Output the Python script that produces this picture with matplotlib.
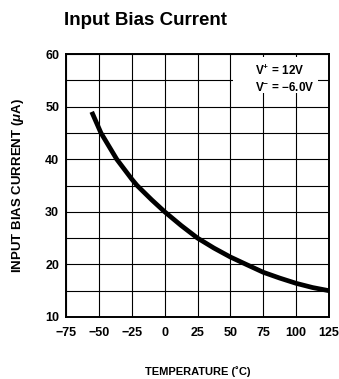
import matplotlib
matplotlib.use('Agg')
import matplotlib.pyplot as plt
from matplotlib import font_manager
from matplotlib.patches import Rectangle

# font: narrow bold if available
names = {f.name for f in font_manager.fontManager.ttflist}
narrow = 'Liberation Sans Narrow' if 'Liberation Sans Narrow' in names else 'Liberation Sans'
plt.rcParams['font.family'] = [narrow, 'DejaVu Sans']
plt.rcParams['mathtext.fontset'] = 'custom'
plt.rcParams['mathtext.it'] = narrow + ':italic:bold'
plt.rcParams['mathtext.rm'] = narrow + ':bold'

# data
temperature = [-55.5, -48.5, -36.5, -25, -21, -10, 0, 12.5, 25, 37.5, 50, 62, 75, 87.5, 100, 112.5, 125]
bias_current = [49.0, 45.0, 40.0, 36.2, 35.0, 32.3, 30.0, 27.4, 25.0, 23.1, 21.4, 20.0, 18.5, 17.4, 16.4, 15.6, 15.0]

x_ticks = [-75, -50, -25, 0, 25, 50, 75, 100, 125]
x_tick_labels = ['\u221275', '\u221250', '\u221225', '0', '25', '50', '75', '100', '125']
y_ticks = [10, 20, 30, 40, 50, 60]
y_minor = [15, 25, 35, 45, 55]

fig = plt.figure(figsize=(3.39, 3.79), dpi=100)
ax = fig.add_axes([0.195, 0.1636, 0.7755, 0.6939])

ax.plot(temperature, bias_current, color='black', linewidth=3.4,
        solid_capstyle='butt', solid_joinstyle='round', zorder=3)

ax.set_xlim(-75, 125)
ax.set_ylim(10, 60)
ax.set_xticks(x_ticks)
ax.set_xticklabels(x_tick_labels)
ax.set_yticks(y_ticks)
ax.set_yticks(y_minor, minor=True)
ax.grid(True, which='both', color='black', linewidth=0.8)
ax.tick_params(which='both', length=0, labelsize=9)
ax.tick_params(axis='x', pad=7)
ax.tick_params(axis='y', pad=5)
for lab in ax.get_xticklabels() + ax.get_yticklabels():
    lab.set_fontweight('bold')
for s in ax.spines.values():
    s.set_linewidth(1.4)

ax.set_xlabel('TEMPERATURE (\u02daC)', fontsize=8, fontweight='bold', labelpad=20)
ax.set_ylabel(r'INPUT BIAS CURRENT ($\mu$A)', fontsize=9.5, fontweight='bold', labelpad=14)

# white box for the supply note
ax.add_patch(Rectangle((0.635, 0.852), 0.323, 0.137, transform=ax.transAxes,
                       facecolor='white', edgecolor='none', zorder=2))
ax.text(0.72, 0.905, 'V$^{+}$ = 12V\nV$^{-}$ = \u22126.0V', transform=ax.transAxes,
        fontsize=8.5, fontweight='bold', ha='left', va='center', linespacing=1.25, zorder=4)

fig.text(0.19, 0.945, 'Input Bias Current', fontsize=13.5, fontweight='bold',
         family=['Liberation Sans', 'DejaVu Sans'], ha='left', va='center')

fig.savefig('out.png', dpi=100)
